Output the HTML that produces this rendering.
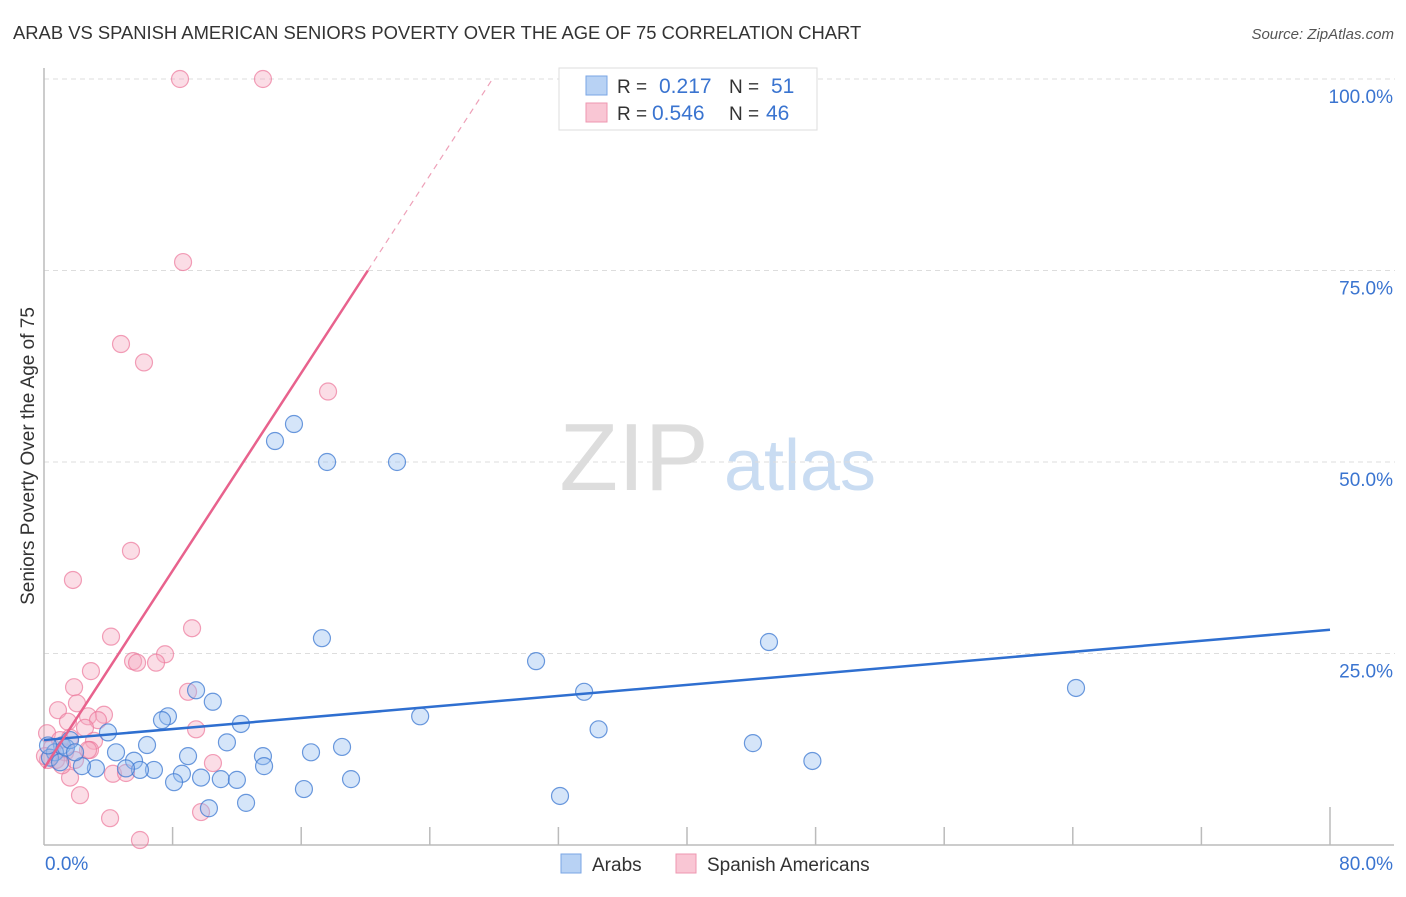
<!DOCTYPE html>
<html><head><meta charset="utf-8"><style>
body{margin:0;background:#fff;font-family:"Liberation Sans",sans-serif;}
svg text{font-family:"Liberation Sans",sans-serif;}
</style></head><body>
<svg id="c" width="1406" height="892" xmlns="http://www.w3.org/2000/svg">
<text x="13" y="39" font-size="18.4" fill="#333">ARAB VS SPANISH AMERICAN SENIORS POVERTY OVER THE AGE OF 75 CORRELATION CHART</text>
<text x="1394" y="39" font-size="15" fill="#555" font-style="italic" text-anchor="end">Source: ZipAtlas.com</text>
<text x="34" y="456" font-size="19" fill="#333" text-anchor="middle" transform="rotate(-90 34 456)">Seniors Poverty Over the Age of 75</text>
<g>
<text x="634" y="490" font-size="96" fill="#ddd" font-family="Liberation Serif" text-anchor="middle">ZIP</text>
<text x="800" y="490" font-size="72" fill="#c9dcf2" text-anchor="middle">atlas</text>
</g>
<g id="grid"></g><g id="axes"></g><g id="marks"></g>
<g>
<rect x="559" y="68" width="258" height="62" fill="#fff" stroke="#ddd"/>
<rect x="586" y="76" width="21" height="19" fill="#b8d2f4" stroke="#7aa6e4"/>
<rect x="586" y="103" width="21" height="19" fill="#f9c6d4" stroke="#ee97b0"/>
<text x="617" y="93" font-size="19" fill="#333">R = </text><text x="659" y="93" font-size="21" fill="#3a74d0">0.217</text>
<text x="729" y="93" font-size="19" fill="#333">N = </text><text x="771" y="93" font-size="21" fill="#3a74d0">51</text>
<text x="617" y="120" font-size="19" fill="#333">R = </text><text x="652" y="120" font-size="21" fill="#3a74d0">0.546</text>
<text x="729" y="120" font-size="19" fill="#333">N = </text><text x="766" y="120" font-size="21" fill="#3a74d0">46</text>
</g>
<g>
<rect x="561" y="854" width="20" height="19" fill="#b8d2f4" stroke="#7aa6e4"/>
<text x="592" y="871" font-size="19" fill="#333">Arabs</text>
<rect x="676" y="854" width="20" height="19" fill="#f9c6d4" stroke="#ee97b0"/>
<text x="707" y="871" font-size="19" fill="#333">Spanish Americans</text>
</g>
</svg>
<script>
const xTicks=[0,8,16,24,32,40,48,56,64,72,80];
const yTicks=[25,50,75,100];
const arabX=[15.55,14.37,17.61,21.96,17.29,30.61,45.1,64.2,33.6,34.5,23.4,44.1,47.8,32.1,9.46,10.5,7.71,7.34,12.25,3.98,6.41,11.38,8.96,13.62,16.61,18.54,4.48,5.6,13.69,11.0,12.0,19.1,9.77,8.58,8.09,6.84,5.97,5.1,3.23,2.36,16.17,12.57,10.26,1.12,0.68,0.37,1.0,1.37,1.62,0.25,1.93];
const arabY=[54.96,52.74,50,50,27,24,26.5,20.5,20,15.1,16.8,13.3,10.97,6.4,20.2,18.7,16.8,16.3,15.8,14.7,13.05,13.4,11.6,11.6,12.1,12.8,12.1,11,10.3,8.6,8.5,8.6,8.8,9.3,8.2,9.8,9.8,10,10,10.3,7.3,5.5,4.8,13,12.1,11.4,10.8,12.7,13.7,13,12.1];
const spanX=[8.46,13.62,8.65,4.79,6.22,17.67,5.41,1.8,9.21,4.17,7.53,6.97,5.54,5.79,2.92,1.87,8.96,2.05,0.87,2.74,3.73,3.36,1.49,9.46,2.55,1.62,3.11,1.31,2.86,10.51,4.29,5.1,1.62,2.24,4.11,5.97,9.77,0.19,0.5,0.75,1.12,0.25,1.93,1.0,2.74,0.06];
const spanY=[100,100,76.1,65.4,63,59.2,38.4,34.6,28.3,27.2,24.9,23.8,24,23.8,22.7,20.6,20,18.5,17.6,16.8,17,16.3,16.1,15.1,15.3,14,13.6,12.1,12.4,10.7,9.3,9.4,8.8,6.5,3.5,0.65,4.3,14.6,12.7,11.1,10.4,11.1,11.1,13.7,12.4,11.6];
const arabLine=[13.7,28.1];
const spanLine=[10.0,3.226];
const NS='http://www.w3.org/2000/svg';
const X0=44,X1=1330,Y0=845,YT=79;
const sx=v=>X0+(X1-X0)*v/80, sy=v=>Y0-(Y0-YT)*v/100;
function mk(p,t,a){const e=document.createElementNS(NS,t);for(const k in a)e.setAttribute(k,a[k]);p.appendChild(e);return e;}
const grid=document.getElementById('grid'),axes=document.getElementById('axes'),marks=document.getElementById('marks');
yTicks.forEach(v=>{
 const l=mk(grid,'line',{x1:X0,x2:1395,y1:sy(v),y2:sy(v),stroke:'#ddd','stroke-dasharray':'5,4'});
 
 
 const t=mk(grid,'text',{x:1393,y:sy(v)+24,'font-size':19,fill:'#3a74d0','text-anchor':'end'});t.textContent=v.toFixed(1)+'%';
 
 
});
let a=mk(axes,'line',{x1:X0,x2:X0,y1:68,y2:Y0,stroke:'#bbb','stroke-width':1.5});


a=mk(axes,'line',{x1:X0,x2:1394,y1:Y0,y2:Y0,stroke:'#bbb','stroke-width':1.5});


xTicks.slice(1).forEach(v=>{const t=mk(axes,'line',{x1:sx(v),x2:sx(v),y1:v===80?807:827,y2:Y0,stroke:'#bbb','stroke-width':1.5});
 
 });
[[0,'start',45],[80,'end',1393]].forEach(([v,anc,x])=>{const t=mk(axes,'text',{x:x,y:870,'font-size':19,fill:'#3a74d0','text-anchor':anc});t.textContent=v.toFixed(1)+'%';
 
 });
function pts(xs,ys,fill,stroke,name){xs.forEach((x,i)=>{const c=mk(marks,'circle',{cx:sx(x),cy:sy(ys[i]),r:8.5,fill:fill,stroke:stroke,'stroke-width':1.2});
 
 });}
pts(spanX,spanY,'rgba(246,170,192,0.4)','rgba(236,120,155,0.7)','spanish-point');
pts(arabX,arabY,'rgba(150,190,240,0.4)','rgba(60,120,210,0.75)','arab-point');
let l=mk(marks,'line',{x1:sx(0),y1:sy(arabLine[0]),x2:sx(80),y2:sy(arabLine[1]),stroke:'#2f6fd0','stroke-width':2.5});


const xs1=(75-spanLine[0])/spanLine[1],xs2=(100-spanLine[0])/spanLine[1];
l=mk(marks,'line',{x1:sx(0),y1:sy(spanLine[0]),x2:sx(xs1),y2:sy(75),stroke:'#e8628d','stroke-width':2.5});


l=mk(marks,'line',{x1:sx(xs1),y1:sy(75),x2:sx(xs2),y2:sy(100),stroke:'#eea0b8','stroke-width':1.2,'stroke-dasharray':'6,5'});


</script>
</body></html>
